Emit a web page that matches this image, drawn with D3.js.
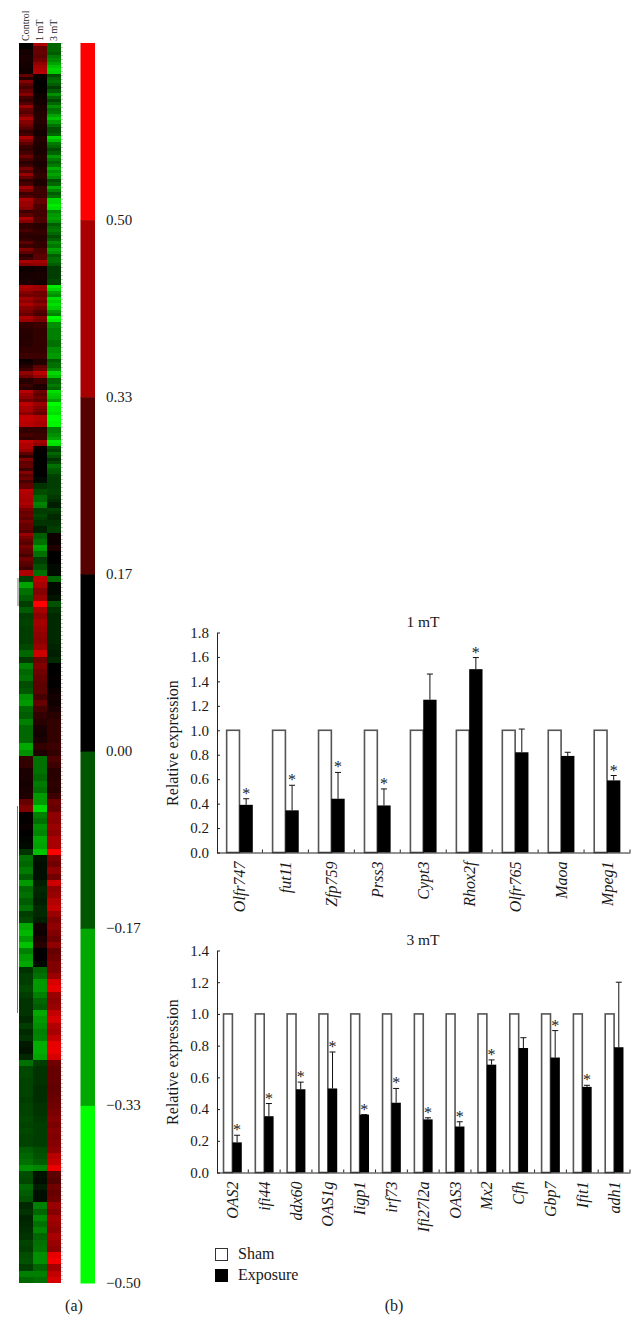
<!DOCTYPE html>
<html>
<head>
<meta charset="utf-8">
<script src="https://d3js.org/d3.v7.min.js"></script>
<style>
  html, body { margin: 0; padding: 0; background: #fff; }
  svg { display: block; opacity: 0.999; }
  text { font-family: "Liberation Serif", serif; fill: #1a1a1a; }
  .gene text { font-style: italic; font-size: 16px; font-family: "Liberation Serif", serif; }
  .val text { font-size: 15px; font-family: "Liberation Serif", serif; }
</style>
</head>
<body>
<div id="chart"></div>
<script>
var width = 640,
  height = 1325;

var heatColumns = ["Control", "1 mT", "3 mT"];

// upper part of the heat map (thin stripes): control, 1 mT, 3 mT
var heatUpper = [
  [0,.34,-.2],[.01,.2,-.2],[.04,.2,-.2],[.04,.2,-.18],[.05,.18,-.24],[.05,.22,-.27],[.04,.28,-.32],[.04,.32,-.38],
  [.03,.34,-.42],[.03,.35,-.4],[.2,.03,-.15],[.08,.02,-.2],[.26,0,-.22],[.18,0,-.18],[.14,.01,-.12],[.2,.01,-.18],
  [.26,.03,-.28],[.14,.03,-.2],[.1,.04,-.14],[.16,.04,-.2],[.3,.06,-.28],[.2,.06,-.22],[.16,.07,-.24],[.24,.07,-.32],
  [.34,.08,-.38],[.26,.08,-.3],[.22,.06,-.22],[.16,.06,-.16],[.1,.04,-.16],[.14,.04,-.2],[.34,.07,-.42],[.26,.07,-.36],
  [.18,.06,-.24],[.12,.06,-.2],[.1,.05,-.15],[.14,.05,-.19],[.22,.07,-.3],[.14,.07,-.24],[.08,.05,-.2],[.12,.05,-.24],
  [.24,.08,-.34],[.16,.08,-.28],[.3,.1,-.32],[.2,.1,-.28],[.1,.06,-.16],[.14,.06,-.2],[.32,.12,-.34],[.24,.12,-.26],
  [.12,.12,-.18],[.16,.12,-.22],[.34,.2,-.42],[.3,.2,-.42],[.3,.15,-.46],[.26,.15,-.44],[.12,.13,-.26],[.18,.13,-.3],
  [.34,.15,-.32],[.26,.15,-.28],[.1,.08,-.18],[.1,.08,-.22],[.14,.1,-.24],[.1,.1,-.2],[.08,.08,-.15],[.1,.08,-.19],
  [.18,.1,-.27],[.12,.1,-.23],[.26,.15,-.32],[.18,.15,-.28],[.08,.18,-.18],[.12,.18,-.22],[.34,.32,-.22],[.26,.28,-.18],
  [.03,.04,-.12],[.03,.04,-.12],[.04,.05,-.12],[.04,.05,-.12],[.05,.04,-.14],[.05,.04,-.14],[.34,.3,-.46],[.32,.3,-.42],
  [.26,.22,-.32],[.22,.22,-.28],[.32,.26,-.44],[.28,.22,-.4],[.34,.28,-.44],[.26,.22,-.4],[.24,.16,-.3],[.2,.14,-.26],
  [.34,.26,-.5],[.3,.24,-.46],[.1,.12,-.28],[.1,.12,-.28],[.08,.1,-.25],[.08,.1,-.25],[.07,.1,-.25],[.07,.1,-.25],
  [.08,.1,-.22],[.08,.1,-.22],[.1,.1,-.28],[.1,.1,-.28],[.12,.12,-.3],[.12,.12,-.3],[.02,.07,-.18],[.04,.07,-.22],
  [.08,.18,-.22],[.12,.22,-.28],[.28,.36,-.42],[.22,.3,-.38],[.08,.12,-.2],[.08,.12,-.2],[.12,.06,-.24],[.08,.06,-.2],
  [.36,.22,-.44],[.3,.18,-.4],[.28,.22,-.38],[.22,.18,-.32],[.37,.3,-.5],[.33,.26,-.46],[.33,.24,-.46],[.27,.2,-.44],
  [.38,.35,-.5],[.38,.35,-.5],[.36,.33,-.48],[.36,.33,-.48],[.1,.1,-.25],[.1,.1,-.25],[.14,.12,-.28],[.1,.12,-.32],
  [.38,.32,-.46],[.34,.28,-.44],[.34,.03,-.17],[.3,.01,-.13],[.18,0,-.2],[.1,0,-.16],[.26,0,-.1],[.18,0,-.14],
  [.2,0,-.22],[.12,0,-.18],[.26,0,-.17],[.18,0,-.13],[.22,-.02,-.12],[.14,-.02,-.12],[.2,-.1,-.12],[.2,-.1,-.12],
  [.36,-.15,-.13],[.34,-.15,-.13],[.34,-.2,-.11],[.32,-.2,-.09],[.34,-.26,-.06],[.3,-.24,-.06],[.24,-.12,-.13],[.2,-.12,-.11],
  [.22,-.14,-.08],[.18,-.12,-.08],[.24,-.1,-.1],[.2,-.1,-.1],[.2,-.06,-.12],[.16,-.06,-.12],[.3,-.18,.03],[.24,-.18,.03],
  [.2,-.22,.02],[.16,-.22,.02],[.24,-.32,.06],[.2,-.3,.06],[.18,-.22,0],[.14,-.22,0],[.22,-.12,0],[.18,-.12,0],
  [.16,-.16,-.02],[.12,-.16,-.02],[.34,-.22,-.02],[.34,-.22,-.02]
];

// lower part of the heat map
var heatLower = [
  [-.12,.36,-.2],[-.32,.33,-.02],[-.22,.26,-.02],[-.18,.3,-.04],
  [-.12,.5,-.16],[-.18,.33,-.1],[-.12,.28,-.08],[-.13,.32,-.08],[-.12,.3,-.08],
  [-.12,.28,-.08],[-.12,.27,-.08],[-.14,.3,-.07],[-.2,.4,-.06],[-.11,.22,-.08],
  [-.25,.25,0],[-.2,.22,0],[-.22,.2,.01],[-.15,.18,0],[-.17,.18,.02],
  [-.28,.14,.04],[-.3,.2,.03],[-.2,.14,.05],[-.18,.1,.08],[-.25,.08,.1],
  [-.2,.05,.1],[-.2,.04,.1],[-.2,.05,.1],[-.33,.1,.12],[-.28,.06,.1],
  [.1,-.22,.15],[.1,-.22,.12],[.05,-.22,.08],[.05,-.2,.08],[.04,-.24,.09],
  [.05,-.22,.08],[.06,-.3,.12],[.2,-.3,.22],[.25,-.42,.2],[.01,-.25,.28],
  [.01,-.22,.27],[.02,-.28,.3],[0,-.26,.28],[-.01,-.33,.33],[-.02,-.32,.33],
  [-.1,-.38,.5],[-.22,-.04,.25],[-.2,-.03,.22],[-.24,-.03,.28],[-.18,-.03,.22],
  [-.3,-.06,.4],[-.2,-.08,.28],[-.22,-.07,.3],[-.18,-.06,.35],[-.22,-.08,.38],
  [-.12,-.08,.3],[-.14,-.06,.25],[-.33,.04,.28],[-.36,.03,.25],[-.3,.05,.22],
  [-.38,.08,.28],[-.25,0,.2],[-.3,0,.22],[-.33,-.02,.25],[-.1,-.2,.25],
  [-.12,-.22,.3],[-.12,-.3,.42],[-.14,-.3,.45],[-.12,-.25,.3],[-.1,-.2,.28],
  [-.1,-.18,.3],[-.1,-.33,.38],[-.08,-.3,.42],[-.12,-.28,.35],[-.08,-.25,.33],
  [-.1,-.26,.38],[-.05,-.34,.45],[-.04,-.34,.46],[-.08,-.32,.42],[-.22,-.12,.22],
  [-.14,-.1,.2],[-.14,-.1,.2],[-.13,-.1,.2],[-.13,-.09,.19],[-.13,-.09,.2],
  [-.12,-.09,.21],[-.13,-.1,.22],[-.13,-.1,.24],[-.14,-.11,.26],[-.13,-.12,.24],
  [-.14,-.12,.26],[-.13,-.12,.25],[-.13,-.12,.26],[-.18,-.15,.28],[-.2,-.16,.36],
  [-.22,-.18,.38],[-.28,-.26,.46],[-.15,-.04,.18],[-.14,-.03,.16],[-.2,-.06,.22],
  [-.18,-.03,.2],[-.16,-.03,.22],[-.08,-.25,.3],[-.1,-.2,.26],[-.07,-.27,.32],
  [-.08,-.22,.3],[-.09,-.26,.28],[-.1,-.2,.33],[-.13,-.22,.3],[-.12,-.23,.28],
  [-.15,-.28,.45],[-.16,-.28,.48],[-.12,-.2,.32],[-.25,-.25,.38],[-.2,-.22,.42]
];

var barLevels = [0.5, 0.33, 0.17, 0, -0.17, -0.33, -0.5];

// 1 mT panel
var genes1 = ["Olfr747", "fut11", "Zfp759", "Prss3", "Cypt3", "Rhox2f", "Olfr765", "Maoa", "Mpeg1"];
var sham1 = [1, 1, 1, 1, 1, 1, 1, 1, 1];
var exposure1 = [.39, .345, .44, .385, 1.25, 1.5, .82, .79, .59];
var errTop1 = [.44, .55, .655, .52, 1.46, 1.595, 1.01, .82, .63];
var star1 = [1, 1, 1, 1, 0, 1, 0, 0, 1];
var ticks1 = [0, .2, .4, .6, .8, 1, 1.2, 1.4, 1.6, 1.8];

// 3 mT panel
var genes3 = ["OAS2", "ifi44", "ddx60", "OAS1g", "Iigp1", "irf73", "Ifi27l2a", "OAS3", "Mx2", "Cfh", "Gbp7", "Ifit1", "adh1"];
var sham3 = [1, 1, 1, 1, 1, 1, 1, 1, 1, 1, 1, 1, 1];
var exposure3 = [.19, .355, .525, .53, .365, .44, .335, .29, .68, .785, .725, .54, .79];
var errTop3 = [.235, .435, .57, .76, .365, .53, .345, .32, .71, .85, .895, .55, 1.2];
var star3 = [1, 1, 1, 1, 1, 1, 1, 1, 1, 0, 1, 1, 0];
var ticks3 = [0, .2, .4, .6, .8, 1, 1.2, 1.4];

var legendLabels = ["Sham", "Exposure"];

var svg = d3.select("#chart").append("svg")
  .attr("width", width)
  .attr("height", height);

var heatColor = d3.scaleLinear()
  .domain([-0.5, 0, 0.5])
  .range(["#00ff00", "#000000", "#ff0000"])
  .clamp(true);

var heatX = d3.scaleBand().domain(heatColumns).range([19, 61]);

function drawHeatBlock(rows, top, bottom) {
  var y = d3.scaleBand().domain(d3.range(rows.length)).range([top, bottom]);

  svg.append("g")
    .attr("shape-rendering", "crispEdges")
    .selectAll("g")
    .data(rows)
    .enter().append("g")
    .attr("transform", function (d, i) { return "translate(0," + y(i) + ")"; })
    .selectAll("rect")
    .data(function (d) { return d; })
    .enter().append("rect")
    .attr("x", function (d, i) { return heatX(heatColumns[i]); })
    .attr("width", heatX.bandwidth())
    .attr("height", y.bandwidth() + 0.5)
    .attr("fill", function (d) { return heatColor(d); });
}

function drawHeatExtras() {
  svg.selectAll(".heat-label")
    .data(heatColumns)
    .enter().append("text")
    .attr("class", "heat-label")
    .attr("transform", function (d) { return "translate(" + (heatX(d) + heatX.bandwidth() / 2 + 3) + ",41) rotate(-90)"; })
    .attr("font-size", 10)
    .text(function (d) { return d; });

  // what is left of the gene names and the tree at the map's edges
  svg.append("line")
    .attr("x1", 62).attr("x2", 62).attr("y1", 43).attr("y2", 1283)
    .attr("stroke", "#bdb0b0").attr("stroke-width", 1.5).attr("stroke-dasharray", "1 3");
  svg.append("line")
    .attr("x1", 18).attr("x2", 18).attr("y1", 578).attr("y2", 606)
    .attr("stroke", "#777");
  svg.append("line")
    .attr("x1", 17.5).attr("x2", 17.5).attr("y1", 806).attr("y2", 1013)
    .attr("stroke", "#777");
}

function drawColorBar() {
  var y = d3.scaleBand().domain(barLevels).range([43, 1283]);
  var g = svg.append("g").attr("id", "colorbar");

  g.selectAll("rect")
    .data(barLevels)
    .enter().append("rect")
    .attr("x", 80.5)
    .attr("width", 14.5)
    .attr("y", function (d) { return y(d); })
    .attr("height", y.bandwidth() + 0.5)
    .attr("fill", function (d) { return heatColor(d); });

  g.selectAll("text")
    .data(barLevels)
    .enter().append("text")
    .attr("x", 106)
    .attr("y", function (d) { return y(d) + y.bandwidth() + 4.5; })
    .attr("font-size", 15)
    .text(function (d) { return d3.format(".2f")(d); });
}

function drawPanel(opts) {
  var y = d3.scaleLinear()
    .domain([0, opts.max])
    .range([opts.bottom, opts.top]);

  var x = d3.scaleBand()
    .domain(opts.genes)
    .range([216.5, 630])
    .paddingInner(opts.pad)
    .paddingOuter(opts.pad / 2);

  var step = x.step(),
    barW = x.bandwidth() / 2,
    g = svg.append("g").attr("class", "panel");

  g.selectAll(".sham")
    .data(opts.sham)
    .enter().append("rect")
    .attr("class", "sham")
    .attr("x", function (d, i) { return x(opts.genes[i]) + 0.5; })
    .attr("y", function (d) { return y(d); })
    .attr("width", barW - 0.5)
    .attr("height", function (d) { return y(0) - y(d); })
    .attr("fill", "#fff")
    .attr("stroke", "#555")
    .attr("stroke-width", 1.6);

  g.selectAll(".err")
    .data(opts.errTop)
    .enter().append("path")
    .attr("class", "err")
    .attr("d", function (d, i) {
      var cx = x(opts.genes[i]) + barW * 1.5;
      return "M" + cx + "," + y(opts.exposure[i]) + " L" + cx + "," + y(d) +
        " M" + (cx - 3) + "," + y(d) + " L" + (cx + 3) + "," + y(d);
    })
    .attr("fill", "none")
    .attr("stroke", "#111")
    .attr("stroke-width", 1);

  g.selectAll(".exposure")
    .data(opts.exposure)
    .enter().append("rect")
    .attr("class", "exposure")
    .attr("x", function (d, i) { return x(opts.genes[i]) + barW; })
    .attr("y", function (d) { return y(d); })
    .attr("width", barW)
    .attr("height", function (d) { return y(0) - y(d); })
    .attr("fill", "#000");

  g.selectAll(".star")
    .data(opts.genes.filter(function (d, i) { return opts.star[i]; }))
    .enter().append("text")
    .attr("class", "star")
    .attr("x", function (d) { return x(d) + barW * 1.5; })
    .attr("y", function (d) { return y(opts.errTop[opts.genes.indexOf(d)]); })
    .attr("text-anchor", "middle")
    .attr("font-size", 16)
    .text("*");

  var yAxis = g.append("g")
    .attr("class", "val")
    .attr("transform", "translate(217,0)")
    .call(d3.axisLeft(y).tickValues(opts.ticks).tickFormat(d3.format(".1f")).tickSizeInner(-3).tickSizeOuter(0).tickPadding(8));
  yAxis.selectAll("line").attr("stroke", "#222");
  yAxis.select(".domain").attr("stroke", "#222");

  var xAxis = g.append("g")
    .attr("class", "gene")
    .attr("transform", "translate(0," + opts.bottom + ")")
    .call(d3.axisBottom(x).tickSize(0));
  xAxis.select(".domain").attr("stroke", "#222");
  xAxis.selectAll("text")
    .attr("text-anchor", "end")
    .attr("transform", "rotate(-90)")
    .attr("x", -9)
    .attr("y", 0)
    .attr("dy", "0.35em");

  // ticks sit between the genes, not under them
  g.selectAll(".sep")
    .data(opts.genes)
    .enter().append("line")
    .attr("class", "sep")
    .attr("x1", function (d) { return x(d) - (step - x.bandwidth()) / 2 + step; })
    .attr("x2", function (d) { return x(d) - (step - x.bandwidth()) / 2 + step; })
    .attr("y1", opts.bottom)
    .attr("y2", opts.bottom - 3)
    .attr("stroke", "#222");

  g.append("text")
    .attr("x", 423)
    .attr("y", opts.top - 6)
    .attr("text-anchor", "middle")
    .attr("font-size", 15.5)
    .text(opts.title);

  g.append("text")
    .attr("transform", "translate(178," + opts.labelY + ") rotate(-90)")
    .attr("text-anchor", "middle")
    .attr("font-size", 16)
    .text("Relative expression");
}

function drawLegend() {
  var y = d3.scalePoint().domain(legendLabels).range([1248, 1269]);
  var g = svg.append("g").attr("id", "legend");

  g.selectAll("rect")
    .data(legendLabels)
    .enter().append("rect")
    .attr("x", 215.5)
    .attr("y", function (d) { return y(d) + 0.5; })
    .attr("width", 12)
    .attr("height", 12)
    .attr("fill", function (d) { return d == "Sham" ? "#fff" : "#000"; })
    .attr("stroke", function (d) { return d == "Sham" ? "#333" : "#000"; });

  g.selectAll("text")
    .data(legendLabels)
    .enter().append("text")
    .attr("x", 238)
    .attr("y", function (d) { return y(d) + 11; })
    .attr("font-size", 16)
    .text(function (d) { return d; });
}

drawHeatBlock(heatUpper, 43, 576);
drawHeatBlock(heatLower, 576, 1283);
drawHeatExtras();
drawColorBar();

drawPanel({
  title: "1 mT", genes: genes1, sham: sham1, exposure: exposure1, errTop: errTop1, star: star1,
  ticks: ticks1, max: 1.8, top: 632.5, bottom: 852.5, pad: 0.42, labelY: 743
});
drawPanel({
  title: "3 mT", genes: genes3, sham: sham3, exposure: exposure3, errTop: errTop3, star: star3,
  ticks: ticks3, max: 1.4, top: 950.5, bottom: 1172.5, pad: 0.41, labelY: 1062
});

drawLegend();

svg.append("text").attr("x", 74).attr("y", 1311).attr("text-anchor", "middle").attr("font-size", 16).text("(a)");
svg.append("text").attr("x", 394).attr("y", 1311).attr("text-anchor", "middle").attr("font-size", 16).text("(b)");
</script>
</body>
</html>
